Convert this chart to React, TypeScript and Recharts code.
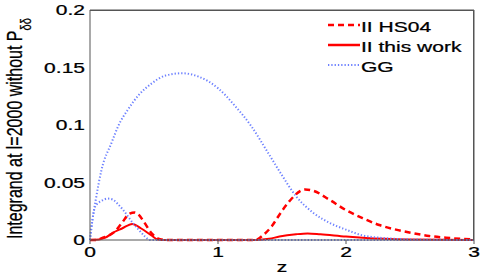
import React from 'react';
import { LineChart, Line, XAxis, YAxis, ReferenceLine } from 'recharts';

// z grid and tick labels
const zTicks = [0, 1, 2, 3];
const zTickLabels = ['0', '1', '2', '3'];
const yTicks = [0, 0.05, 0.1, 0.15, 0.2];
const yTickLabels = ['0', '0.05', '0.1', '0.15', '0.2'];
const zMax = 3;
const yMax = 0.2;

// HS04 (dashed red)
const hs04Z = [0, 0.05, 0.1, 0.15, 0.2, 0.25, 0.31, 0.35, 0.38, 0.42, 0.48, 0.54, 0.6, 1.29, 1.35, 1.42, 1.48, 1.56, 1.68, 1.74, 1.87, 2.0, 2.13, 2.26, 2.39, 2.52, 2.65, 2.78, 2.9, 3.0];
const hs04V = [0, 0, 0.002, 0.004, 0.008, 0.015, 0.023, 0.024, 0.022, 0.016, 0.006, 0.001, 0, 0, 0.004, 0.012, 0.022, 0.034, 0.044, 0.043, 0.035, 0.026, 0.019, 0.013, 0.009, 0.006, 0.0035, 0.002, 0.001, 0.0005];

// this work (solid red)
const thisWorkZ = [0, 0.07, 0.12, 0.175, 0.25, 0.33, 0.4, 0.48, 0.53, 0.6, 1.3, 1.4, 1.48, 1.61, 1.7, 1.8, 2.0, 2.13, 2.3, 2.5, 3.0];
const thisWorkV = [0, 0.0005, 0.002, 0.006, 0.01, 0.014, 0.01, 0.004, 0.0005, 0, 0, 0.001, 0.003, 0.005, 0.0057, 0.005, 0.003, 0.002, 0.001, 0.0004, 0];

// GG (dotted blue), two branches
const ggSmallZ = [0, 0.02, 0.04, 0.09, 0.14, 0.18, 0.22, 0.26, 0.3, 0.34, 0.38, 0.43, 0.47, 0.55, 3.0];
const ggSmallV = [0, 0.018, 0.029, 0.034, 0.036, 0.035, 0.031, 0.026, 0.02, 0.014, 0.009, 0.003, 0, 0, 0];
const ggZ = [0, 0.01, 0.045, 0.09, 0.17, 0.22, 0.3, 0.38, 0.48, 0.59, 0.72, 0.85, 1.0, 1.13, 1.26, 1.39, 1.49, 1.61, 1.74, 1.87, 2.0, 2.13, 2.26, 2.39, 2.6, 3.0];
const ggV = [0, 0.01, 0.035, 0.061, 0.085, 0.099, 0.114, 0.126, 0.136, 0.143, 0.145, 0.142, 0.132, 0.117, 0.099, 0.076, 0.058, 0.038, 0.024, 0.015, 0.009, 0.004, 0.002, 0.001, 0.0003, 0];

const toPts = (zs: number[], vs: number[]) => zs.map((z, i) => ({ z, v: vs[i] }));

const RED = '#ff0000';
const BLUE = '#6e82ff';
const AXIS = '#555';
const FONT = '"Liberation Sans", Arial, sans-serif';
const SX = 1.45; // horizontal stretch of the original figure text

const label = (vals: number[], labels: string[], v: number) => {
  const i = vals.indexOf(v);
  return i >= 0 ? labels[i] : String(v);
};

const txt = { fontFamily: FONT, fontSize: 14.5, fill: '#000', stroke: '#000', strokeWidth: 0.25 };

const YTick = (props: any) => {
  const { x, y, payload } = props;
  return (
    <text transform={`translate(${x},${y + 5}) scale(${SX},1)`} textAnchor="end" {...txt}>
      {label(yTicks, yTickLabels, payload.value)}
    </text>
  );
};

const XTick = (props: any) => {
  const { x, payload } = props;
  return (
    <text transform={`translate(${x},257) scale(${SX},1)`} textAnchor="middle" {...txt}>
      {label(zTicks, zTickLabels, payload.value)}
    </text>
  );
};

const ZLabel = (props: any) => {
  const vb = props.viewBox || { x: 90, width: 384 };
  return (
    <text transform={`translate(${vb.x + vb.width / 2},272) scale(${SX},1)`} textAnchor="middle" {...txt}>
      z
    </text>
  );
};

const YLabel = () => (
  <text
    transform="translate(22,239) rotate(-90) scale(1,1.35)"
    textAnchor="start"
    fontFamily={FONT}
    fontSize={16}
    fill="#000"
    stroke="#000"
    strokeWidth={0.2}
  >
    Integrand at l=2000 without P
    <tspan fontSize={11} dy={7}>δδ</tspan>
  </text>
);

const legendItems = [
  { name: 'II HS04', color: RED, width: 2.5, dash: '6 4' },
  { name: 'II this work', color: RED, width: 2.5, dash: undefined },
  { name: 'GG', color: BLUE, width: 2, dash: '1.3 2' },
];

const LegendBox = () => (
  <svg width={160} height={70} style={{ position: 'absolute', left: 313, top: 11 }}>
    {legendItems.map((it, i) => {
      const cy = 14 + i * 20;
      return (
        <g key={it.name}>
          <line x1={15} x2={47} y1={cy} y2={cy} stroke={it.color} strokeWidth={it.width} strokeDasharray={it.dash} />
          <text transform={`translate(48,${cy + 6.5}) scale(${SX},1)`} {...txt}>
            {it.name}
          </text>
        </g>
      );
    })}
  </svg>
);

export default function App() {
  return (
    <div style={{ position: 'absolute', left: 0, top: 0, width: 485, height: 277, background: '#fff' }}>
      <LineChart width={485} height={277} margin={{ top: 10, right: 11, bottom: 0, left: 0 }}>
        <XAxis
          dataKey="z"
          type="number"
          domain={[0, zMax]}
          ticks={zTicks}
          height={37}
          stroke={AXIS}
          tickSize={4}
          tickMargin={7}
          tick={<XTick />}
          label={ZLabel}
        />
        <YAxis
          type="number"
          domain={[0, yMax]}
          ticks={yTicks}
          width={90}
          stroke={AXIS}
          tickSize={0}
          tickMargin={5}
          tick={<YTick />}
          label={YLabel}
        />
        <ReferenceLine y={yMax} stroke={AXIS} ifOverflow="extendDomain" />
        <ReferenceLine x={zMax} stroke={AXIS} ifOverflow="extendDomain" />
        <Line data={toPts(hs04Z, hs04V)} dataKey="v" type="monotone" stroke={RED} strokeWidth={2.5} strokeDasharray="6 4" dot={false} isAnimationActive={false} />
        <Line data={toPts(thisWorkZ, thisWorkV)} dataKey="v" type="monotone" stroke={RED} strokeWidth={2} dot={false} isAnimationActive={false} />
        <Line data={toPts(ggSmallZ, ggSmallV)} dataKey="v" type="monotone" stroke={BLUE} strokeWidth={2} strokeDasharray="1.3 2" dot={false} isAnimationActive={false} />
        <Line data={toPts(ggZ, ggV)} dataKey="v" type="monotone" stroke={BLUE} strokeWidth={2} strokeDasharray="1.3 2" dot={false} isAnimationActive={false} />
      </LineChart>
      {/* plot frame, top and right edges */}
      <div
        style={{
          position: 'absolute',
          left: 90,
          top: 10,
          width: 383,
          height: 229,
          borderTop: `1px solid ${AXIS}`,
          borderRight: `1px solid ${AXIS}`,
          pointerEvents: 'none',
        }}
      />
      <LegendBox />
    </div>
  );
}
